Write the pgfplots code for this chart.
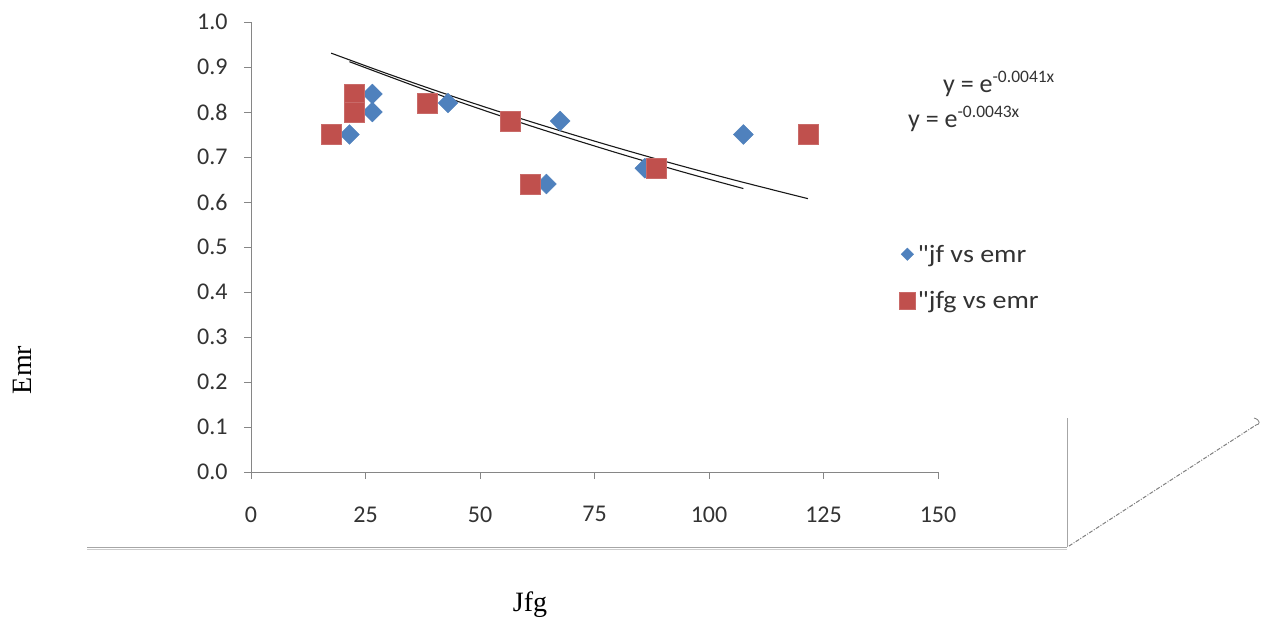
\documentclass[border=0pt]{standalone}
\usepackage{fontspec}
\setmainfont{Carlito}[Ligatures=TeXOff]
\newfontfamily\timesfont{Liberation Serif}
\usepackage{pgfplots}
\pgfplotsset{compat=1.18}
\definecolor{jfblue}{HTML}{4F81BD}
\definecolor{jfgred}{HTML}{C0504D}
\definecolor{axgray}{HTML}{868686}
\begin{document}
\begin{tikzpicture}
\useasboundingbox (0,0) rectangle (1261pt,624pt);
\fill[white] (0,0) rectangle (1261pt,624pt);
\begin{axis}[
  at={(251pt,152pt)}, anchor=south west,
  scale only axis, width=687pt, height=450pt,
  xmin=0, xmax=150, ymin=0, ymax=1,
  axis x line*=bottom, axis y line*=left,
  axis line style={axgray, line width=0.8pt},
  xtick={0,25,50,75,100,125,150},
  ytick={0,0.1,0.2,0.3,0.4,0.5,0.6,0.7,0.8,0.9,1.0},
  tick align=outside, major tick length=7pt,
  tick style={axgray, line width=0.8pt},
  /pgf/number format/assume math mode=true,
  ticklabel style={font=\fontsize{24}{28}\selectfont, text=black!80},
  yticklabel style={/pgf/number format/fixed, /pgf/number format/fixed zerofill, /pgf/number format/precision=1, xshift=-13pt},
  xticklabel style={yshift=-24pt},
  clip=false,
  legend cell align=left,
  legend image code/.code={\draw[mark repeat=2,mark phase=2,#1] plot coordinates {(0cm,0cm) (0.3cm,0cm) (0.6cm,0cm)};},
  legend style={draw=none, fill=none, at={(rel axis cs:0.9387,0.514)}, anchor=north west,
    font=\fontsize{25}{29}\selectfont, row sep=24pt, text=black!80},
]
\addplot[only marks, mark=square*, mark size=7pt, mark options={rotate=45, fill=jfblue, draw=jfblue},
  legend image post style={mark size=4.4pt}]
  coordinates {(21.5,0.75) (26.5,0.84) (26.5,0.80) (43,0.82) (67.5,0.78) (64.5,0.64) (86,0.675) (107.5,0.75)};
\addlegendentry{\scalebox{1.12}[1]{"jf vs emr}}
\addplot[only marks, mark=square*, mark size=10pt, mark options={fill=jfgred, draw=jfgred!85!white},
  legend image post style={mark size=8.3pt}]
  coordinates {(17.5,0.75) (22.5,0.84) (22.5,0.80) (38.5,0.82) (56.5,0.78) (61,0.64) (88.5,0.675) (121.6,0.75)};
\addlegendentry{\scalebox{1.12}[1]{"jfg vs emr}}
% exponential trendlines (values read as y = e^{-kx})
\addplot[forget plot, black!90, line width=1.1pt, no marks, smooth]
  coordinates {(17.5,0.9308) (30,0.8843) (45,0.8315) (60,0.7819) (75,0.7353) (90,0.6914) (105,0.6502) (121.6,0.6074)};
\addplot[forget plot, black!90, line width=1.1pt, no marks, smooth]
  coordinates {(21.5,0.9117) (40,0.8420) (60,0.7726) (80,0.7089) (95,0.6647) (107.5,0.6299)};
\end{axis}
% equation labels
\node[anchor=base west, inner sep=0pt, text=black!80] at (943pt,531pt)
  {\fontsize{26}{28}\selectfont y = e\raisebox{10pt}{\fontsize{17.5}{19}\selectfont -0.0041x}};
\node[anchor=base west, inner sep=0pt, text=black!80] at (908pt,496pt)
  {\fontsize{26}{28}\selectfont y = e\raisebox{10pt}{\fontsize{17.5}{19}\selectfont -0.0043x}};
% axis titles
\node[rotate=90, text=black] at (22pt,254pt) {\timesfont\fontsize{28}{32}\selectfont Emr};
\node[text=black] at (530pt,19pt) {\timesfont\fontsize{28}{32}\selectfont Jfg};
% chart frame artefacts
\draw[gray!70, line width=0.8pt] (87pt,77pt) -- (1067pt,77pt);
\draw[gray!40, line width=0.8pt] (87pt,75pt) -- (1067pt,75pt);
\draw[gray!70, line width=0.8pt] (1067pt,77pt) -- (1067pt,206pt);
\draw[gray, line width=1pt, dash pattern=on 4pt off 1.5pt on 1pt off 1.5pt] (1069pt,78pt) -- (1256pt,199pt);
\draw[gray, line width=0.8pt] (1254pt,206pt) .. controls (1261pt,204pt) and (1260pt,199pt) .. (1256pt,199pt);
\end{tikzpicture}
\end{document}
